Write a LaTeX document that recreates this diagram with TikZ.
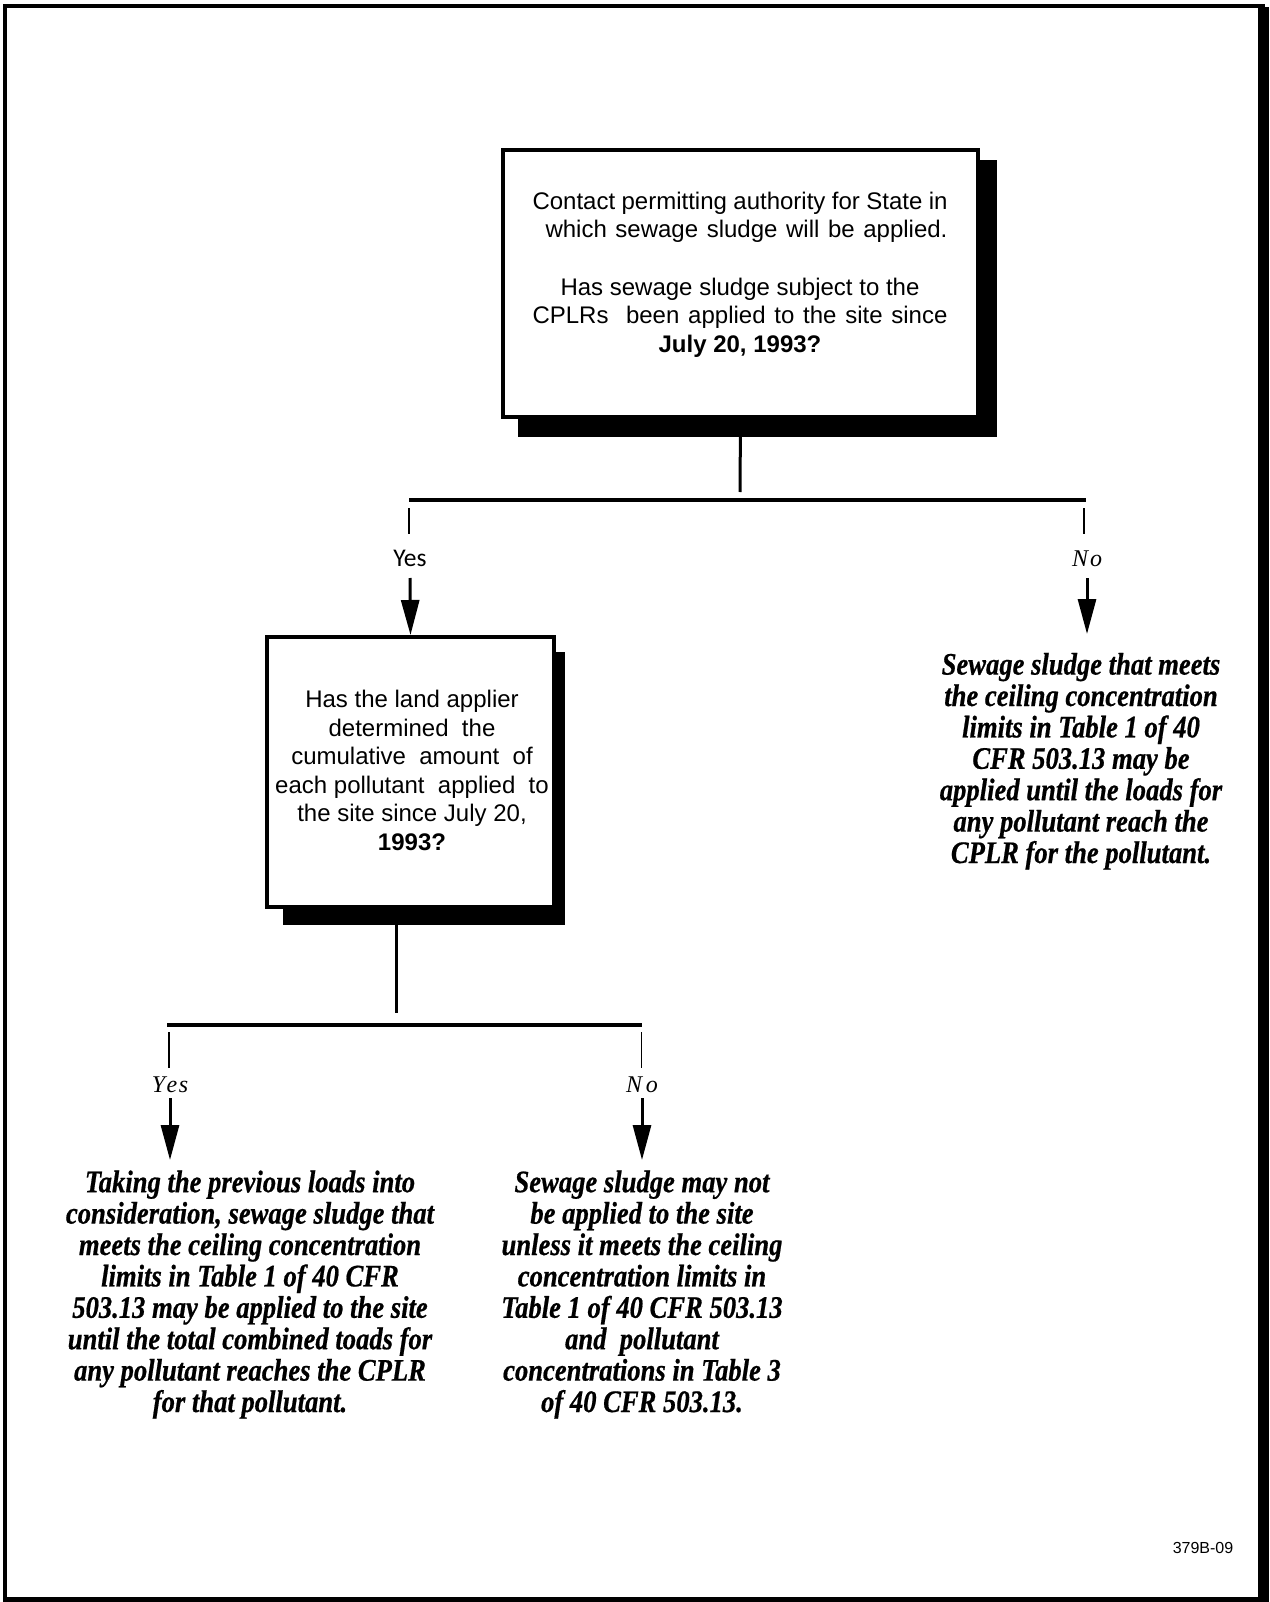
\documentclass[tikz,border=0pt]{standalone}
\usepackage{fontspec}
\setmainfont{Liberation Serif}
\newfontfamily\arialf{Liberation Sans}
\newfontfamily\condf[FakeStretch=0.85,FakeBold=0.6]{Liberation Serif}
\newfontfamily\carl{Carlito}
\usetikzlibrary{arrows.meta}
\tikzset{
  qbox/.style={draw, line width=4pt, fill=white, inner sep=0pt},
  shade/.style={fill=black, draw=none},
  conn/.style={line width=3pt},
  tickline/.style={line width=1.3pt},
  barline/.style={line width=4.5pt},
  arr/.style={line width=3pt, -{Triangle[length=35pt,width=18pt]}},
  qtext/.style={font=\arialf\fontsize{24}{28.5}\selectfont, align=center, inner sep=0pt, anchor=base},
  atext/.style={font=\condf\bfseries\itshape\fontsize{31.3}{31.4}\selectfont, align=center, inner sep=0pt, anchor=base},
  ylab/.style={font=\carl\fontsize{25.5}{25}\selectfont, inner sep=0pt, anchor=base},
  ilab/.style={font=\itshape\fontsize{24}{24}\selectfont, inner sep=0pt, anchor=base},
  idlab/.style={font=\arialf\fontsize{16}{16}\selectfont, inner sep=0pt, anchor=base},
}
\begin{document}
\begin{tikzpicture}[x=1pt,y=-1pt]
\useasboundingbox (0,0) rectangle (1269,1602);
% outer frame
\draw[line width=4pt] (5,1602) -- (5,6.5) -- (1265,6.5);
\fill (1258,7) rectangle (1269,1602);
\fill (3,1597) rectangle (1269,1602);

% coordinates
\coordinate (j1) at (740,492);
\coordinate (b1l) at (409,500);
\coordinate (b1r) at (1086,500);
\coordinate (t1a) at (409,508); \coordinate (t1b) at (409,534);
\coordinate (t2a) at (1084,508); \coordinate (t2b) at (1084,534);
\coordinate (a1s) at (410,578);
\coordinate (a2s) at (1087,578); \coordinate (a2e) at (1087,634);
\coordinate (j2s) at (396,907); \coordinate (j2) at (396,1013);
\coordinate (b2l) at (167,1025);
\coordinate (b2r) at (642,1025);
\coordinate (t3a) at (169,1032); \coordinate (t3b) at (169,1068);
\coordinate (t4a) at (641,1032); \coordinate (t4b) at (641,1068);
\coordinate (a3s) at (170,1098); \coordinate (a3e) at (170,1160);
\coordinate (a4s) at (642,1098); \coordinate (a4e) at (642,1160);

% connectors behind the boxes
\node[qbox, draw=none, fill=none, minimum width=475pt, minimum height=267pt] (q1ref) at (740.5,283.5) {};
\draw[conn] (q1ref.south) -- (j1);
\draw[conn] (j2s) -- (j2);

% shadows
\fill[shade] (518,160) rectangle (997,437);
\fill[shade] (283,652) rectangle (565,925);

% boxes
\node[qbox, minimum width=475pt, minimum height=267pt] (q1) at (740.5,283.5) {};
\node[qbox, minimum width=287pt, minimum height=270pt] (q2) at (410.5,772) {};

% box texts (anchor = baseline of last line)
\node[qtext] (q1t) at (740,352) {\makebox[415pt][s]{Contact permitting authority for State in}\\
\hspace*{13pt}\makebox[402pt][s]{which sewage sludge will be applied.}\\[28.5pt]
Has sewage sludge subject to the\\
\makebox[415pt][s]{CPLRs \ been applied to the site since}\\
\textbf{July 20, 1993?}};
\node[qtext] (q2t) at (412,850) {Has the land applier\\
determined \ the\\
cumulative \ amount \ of\\
each pollutant \ applied \ to\\
the site since July 20,\\
\textbf{1993?}};

% branch 1
\draw[barline] (b1l) -- (b1r);
\draw[tickline] (t1a) -- (t1b);
\draw[tickline] (t2a) -- (t2b);
\node[ylab] (yes1) at (410,566) {Yes};
\node[ilab] (no1) at (1087,566) {N\kern2pt o};
\draw[arr] (a1s) -- (q2.north);
\draw[arr] (a2s) -- (a2e);
\node[atext] (ans1) at (1081,863) {Sewage sludge that meets\\
the ceiling concentration\\
limits in Table 1 of 40\\
CFR 503.13 may be\\
applied until the loads for\\
any pollutant reach the\\
CPLR for the pollutant.};

% branch 2
\draw[line width=3.5pt] (b2l) -- (b2r);
\draw[tickline] (t3a) -- (t3b);
\draw[tickline, line width=0.8pt] (t4a) -- (t4b);
\node[ilab] (yes2) at (170,1092) {Y\kern1.5pt e\kern1.5pt s};
\node[ilab] (no2) at (642,1092) {N\kern4pt o};
\draw[arr] (a3s) -- (a3e);
\draw[arr] (a4s) -- (a4e);
\node[atext] (ans2) at (250,1412) {Taking the previous loads into\\
consideration, sewage sludge that\\
meets the ceiling concentration\\
limits in Table 1 of 40 CFR\\
503.13 may be applied to the site\\
until the total combined toads for\\
any pollutant reaches the CPLR\\
for that pollutant.};
\node[atext] (ans3) at (642,1412) {Sewage sludge may not\\
be applied to the site\\
unless it meets the ceiling\\
concentration limits in\\
Table 1 of 40 CFR 503.13\\
and \ pollutant\\
concentrations in Table 3\\
of 40 CFR 503.13.};

\node[idlab] (fig) at (1203,1553) {379B-09};
\end{tikzpicture}
\end{document}
